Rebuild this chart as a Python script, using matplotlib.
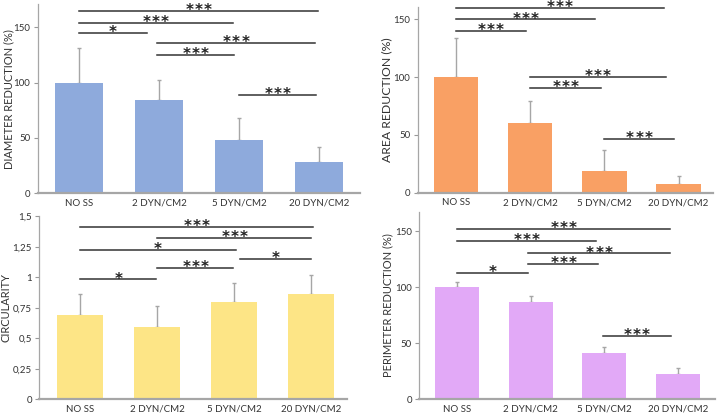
import matplotlib
matplotlib.use("Agg")
import matplotlib.pyplot as plt

plt.rcParams['font.family'] = ['Lato', 'DejaVu Sans']

# --- donnees ---
groups = ['NO SS', '2 DYN/CM2', '5 DYN/CM2', '20 DYN/CM2']

diam_mean = [100, 84, 48, 27.7]
diam_err = [31, 18.8, 20.4, 14.2]

area_mean = [100, 60, 18.8, 7.2]
area_err = [33.6, 19.3, 18.2, 7.2]

circ_mean = [0.69, 0.595, 0.80, 0.863]
circ_err = [0.17, 0.17, 0.15, 0.157]

perim_mean = [100, 86.6, 41.6, 22.6]
perim_err = [4.5, 5.6, 5.1, 5.1]

# comparaisons significatives : (groupe debut, groupe fin, hauteur, etoiles)
diam_sig = [(0, 2.99, 164.6, '***'), (0, 1.92, 154.3, '***'), (0, 0.85, 145, '*'),
            (0.98, 2.95, 136, '***'), (0.98, 1.94, 124.8, '***'), (2.0, 2.96, 88.9, '***')]
area_sig = [(0, 2.80, 160, '***'), (0, 1.88, 150, '***'), (0, 0.94, 139.9, '***'),
            (1.0, 2.83, 100.4, '***'), (1.0, 1.95, 90.3, '***'), (2.0, 2.94, 46.2, '***')]
circ_sig = [(0, 3.02, 1.415, '***'), (1.0, 3.0, 1.32, '***'), (0, 2.02, 1.224, '*'),
            (2.08, 3.0, 1.15, '*'), (1.0, 1.99, 1.079, '***'), (0, 0.99, 0.983, '*')]
perim_sig = [(0, 2.89, 151.8, '***'), (0, 1.88, 141.3, '***'), (0.97, 2.89, 130.3, '***'),
             (0.97, 1.92, 120.8, '***'), (0, 0.97, 112.5, '*'), (1.98, 2.9, 56.5, '***')]


def draw_panel(ax, means, errs, sig, color, ylabel, ylabel_size, ylim, yticks, yticklabels,
               xlim, label_x):
    x = list(range(len(groups)))
    ax.bar(x, means, width=0.6, color=color, zorder=2)
    ax.errorbar(x, means, yerr=[[0] * len(errs), errs], fmt='none',
                ecolor='#a6a6a6', elinewidth=1, capsize=1.5, capthick=1, zorder=1)

    for x0, x1, y, stars in sig:
        ax.plot([x0, x1], [y, y], color='#333333', lw=1.1, zorder=3, clip_on=False)
        # etoiles espacees comme dans la figure d'origine
        n = len(stars)
        for k in range(n):
            dx = (k - (n - 1) / 2) * 6.5
            ax.annotate('*', xy=((x0 + x1) / 2, y), xytext=(dx, -3), textcoords='offset points',
                        ha='center', va='baseline', fontsize=11, fontweight='bold',
                        family='DejaVu Sans', color='#222222', annotation_clip=False)

    ax.set_xlim(*xlim)
    ax.set_ylim(*ylim)
    ax.set_xticks(x)
    ax.set_xticklabels(groups, fontsize=7, color='#333333')
    ax.set_yticks(yticks)
    ax.set_yticklabels(yticklabels, fontsize=7, color='#333333')
    ax.tick_params(axis='x', length=0, pad=4)
    ax.tick_params(axis='y', length=3, width=0.8, color='#999999', pad=2.5)
    ax.set_ylabel(ylabel, fontsize=ylabel_size, color='#333333')
    ax.yaxis.set_label_coords(label_x, 0.5)

    for side in ['top', 'right']:
        ax.spines[side].set_visible(False)
    ax.spines['left'].set_color('#a6a6a6')
    ax.spines['left'].set_linewidth(0.9)
    ax.spines['bottom'].set_color('#a6a6a6')
    ax.spines['bottom'].set_linewidth(1.6)


fig = plt.figure(figsize=(7.17, 4.17), dpi=100)

ax1 = fig.add_axes([0.053, 0.537, 0.449, 0.453])
ax2 = fig.add_axes([0.583, 0.538, 0.412, 0.445])
ax3 = fig.add_axes([0.055, 0.0424, 0.4285, 0.4389])
ax4 = fig.add_axes([0.585, 0.0424, 0.412, 0.4499])

draw_panel(ax1, diam_mean, diam_err, diam_sig, '#8eaadc', 'DIAMETER REDUCTION (%)', 8,
           (0, 171), [0, 50, 100, 150], ['0', '50', '100', '150'], (-0.512, 3.512), -0.073)
draw_panel(ax2, area_mean, area_err, area_sig, '#f9a064', 'AREA REDUCTION (%)', 8.8,
           (0, 160.6), [0, 50, 100, 150], ['0', '50', '100', '150'], (-0.51, 3.47), -0.088)
draw_panel(ax3, circ_mean, circ_err, circ_sig, '#fde586', 'CIRCULARITY', 8,
           (0, 1.5), [0, 0.25, 0.5, 0.75, 1, 1.25, 1.5],
           ['0', '0,25', '0,5', '0,75', '1', '1,25', '1,5'], (-0.53, 3.46), -0.092)
draw_panel(ax4, perim_mean, perim_err, perim_sig, '#e2a9f7', 'PERIMETER REDUCTION (%)', 8,
           (0, 167.5), [0, 50, 100, 150], ['0', '50', '100', '150'], (-0.51, 3.5), -0.088)

fig.savefig('out.png', dpi=100)
